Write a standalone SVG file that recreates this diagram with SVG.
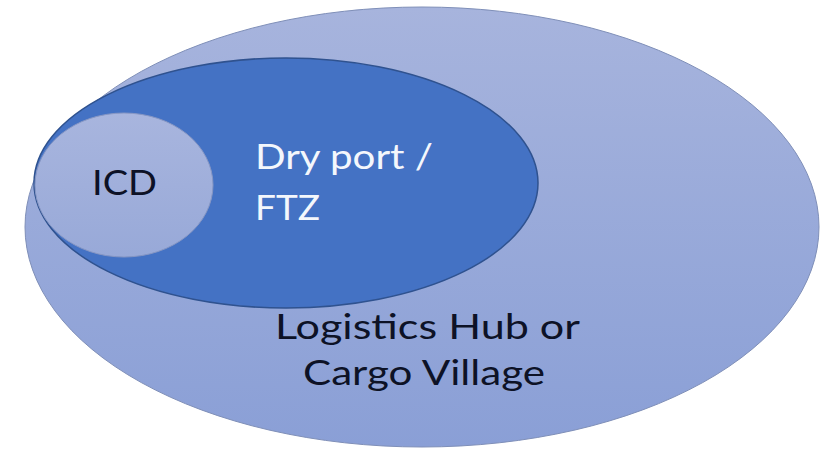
<svg xmlns="http://www.w3.org/2000/svg" width="821" height="452" viewBox="0 0 821 452">
<defs>
<linearGradient id="gOuter" x1="0" y1="0" x2="0" y2="1">
<stop offset="0" stop-color="#a7b4dd"/>
<stop offset="1" stop-color="#8a9fd6"/>
</linearGradient>
<linearGradient id="gSmall" x1="0" y1="0" x2="0" y2="1">
<stop offset="0" stop-color="#a8b5de"/>
<stop offset="1" stop-color="#98a9d8"/>
</linearGradient>
</defs>
<style>
text{font-family:Lato,"Open Sans","Liberation Sans",sans-serif;font-size:34px}
.dark{fill:#0d1226}
.light{fill:#f4f7fc}
</style>
<rect width="821" height="452" fill="#ffffff"/>
<g id="outer">
<ellipse cx="422" cy="227" rx="397" ry="220" fill="url(#gOuter)" stroke="#7f8fb8" stroke-width="1"/>
<text class="dark" x="275" y="339" textLength="305" lengthAdjust="spacingAndGlyphs">Logistics Hub or</text>
<text class="dark" x="303" y="385" textLength="242" lengthAdjust="spacingAndGlyphs">Cargo Village</text>
</g>
<g id="dryport">
<ellipse cx="286" cy="183" rx="252" ry="125" fill="#4472c4" stroke="#2f528f" stroke-width="1.5"/>
<text class="light" x="255" y="169" textLength="178" lengthAdjust="spacingAndGlyphs">Dry port /</text>
<text class="light" x="255" y="220" textLength="65" lengthAdjust="spacingAndGlyphs">FTZ</text>
</g>
<g id="icd">
<ellipse cx="124" cy="185" rx="89" ry="72" fill="url(#gSmall)" stroke="#8797c4" stroke-width="1"/>
<text class="dark" x="92" y="195" textLength="65" lengthAdjust="spacingAndGlyphs">ICD</text>
</g>
<g id="connectors"/>
</svg>
